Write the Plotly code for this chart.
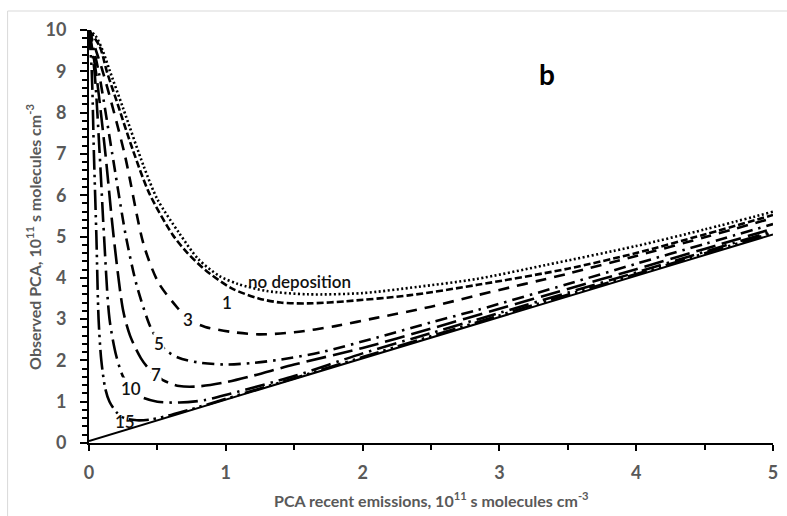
import plotly.graph_objects as go

# ---- data ----
nodep_x = [0, 0.05, 0.1, 0.15, 0.25, 0.4, 0.5, 0.66, 0.8, 0.95, 1.09, 1.3, 1.6, 2.0, 2.4, 2.83, 3.34, 4.0, 4.5, 5.0]
nodep_y = [10, 9.85, 9.5, 9.03, 8.1, 6.7, 5.9, 5.08, 4.45, 4.05, 3.85, 3.68, 3.6, 3.63, 3.78, 3.97, 4.31, 4.77, 5.17, 5.6]

d1_x = [0, 0.08, 0.13, 0.2, 0.32, 0.44, 0.61, 0.72, 0.85, 1.04, 1.24, 1.4, 1.6, 1.87, 2.35, 2.84, 3.5, 4.0, 4.5, 5.0]
d1_y = [10, 9.59, 9.0, 8.3, 7.1, 6.05, 5.05, 4.6, 4.19, 3.75, 3.5, 3.4, 3.38, 3.43, 3.58, 3.83, 4.22, 4.6, 5.05, 5.52]

d3_x = [0, 0.1, 0.26, 0.4, 0.51, 0.66, 0.72, 0.85, 1.04, 1.24, 1.5, 1.8, 2.1, 2.5, 2.84, 3.5, 4.0, 4.5, 5.0]
d3_y = [10, 9.0, 7.0, 4.8, 3.87, 3.22, 3.0, 2.81, 2.69, 2.63, 2.68, 2.83, 3.03, 3.3, 3.58, 4.1, 4.53, 4.98, 5.45]

d5_x = [0, 0.07, 0.17, 0.27, 0.35, 0.45, 0.51, 0.56, 0.65, 0.8, 1.0, 1.2, 1.4, 1.7, 2.1, 2.5, 2.84, 3.5, 4.0, 4.5, 5.0]
d5_y = [10, 9.0, 7.0, 5.0, 3.8, 2.8, 2.45, 2.25, 2.07, 1.95, 1.9, 1.94, 2.02, 2.2, 2.55, 2.92, 3.22, 3.85, 4.34, 4.82, 5.3]

d7_x = [0, 0.05, 0.12, 0.18, 0.25, 0.3, 0.38, 0.45, 0.54, 0.66, 0.8, 1.0, 1.2, 1.5, 2.0, 2.5, 3.0, 3.5, 4.0, 4.5, 5.0]
d7_y = [10, 9.0, 7.0, 5.0, 3.2, 2.6, 2.05, 1.75, 1.52, 1.38, 1.37, 1.47, 1.63, 1.9, 2.3, 2.77, 3.25, 3.73, 4.21, 4.7, 5.19]

d10_x = [0, 0.04, 0.078, 0.11, 0.15, 0.2, 0.25, 0.31, 0.38, 0.5, 0.66, 0.85, 1.04, 1.5, 2.0, 2.5, 3.0, 3.5, 4.0, 4.5, 5.0]
d10_y = [10, 9.0, 7.0, 5.0, 3.0, 2.1, 1.6, 1.33, 1.12, 1.0, 0.98, 1.04, 1.2, 1.62, 2.17, 2.66, 3.15, 3.64, 4.13, 4.63, 5.13]

d15_x = [0, 0.02, 0.036, 0.054, 0.07, 0.09, 0.12, 0.15, 0.2, 0.26, 0.35, 0.45, 0.6, 0.8, 1.0, 1.5, 2.0, 3.0, 4.0, 5.0]
d15_y = [10, 9.0, 7.0, 5.0, 3.0, 2.0, 1.3, 1.0, 0.75, 0.6, 0.55, 0.57, 0.68, 0.87, 1.07, 1.57, 2.08, 3.09, 4.09, 5.09]

ref_x = [0, 5]
ref_y = [0.05, 5.05]

label_text = ["no deposition", "1", "3", "5", "7", "10", "15"]
label_x = [1.54, 1.01, 0.72, 0.51, 0.49, 0.31, 0.26]
label_y = [3.92, 3.41, 2.98, 2.42, 1.65, 1.33, 0.53]

x_ticks = [0, 1, 2, 3, 4, 5]
y_ticks = [0, 1, 2, 3, 4, 5, 6, 7, 8, 9, 10]

# ---- figure ----
fig = go.Figure()
series = [
    (nodep_x, nodep_y, "2px,2.5px"),
    (d1_x, d1_y, "7px,3px"),
    (d3_x, d3_y, "11px,8px"),
    (d5_x, d5_y, "12px,6px,2.5px,6px"),
    (d7_x, d7_y, "20px,7px"),
    (d10_x, d10_y, "20px,6px,2.5px,6px"),
    (d15_x, d15_y, "20px,5px,2.5px,5px,2.5px,5px"),
]
for xs, ys, dash in series:
    fig.add_trace(go.Scatter(x=xs, y=ys, mode="lines",
                             line=dict(color="black", width=2.6, dash=dash,
                                       shape="spline", smoothing=0.8),
                             showlegend=False, hoverinfo="skip"))
fig.add_trace(go.Scatter(x=ref_x, y=ref_y, mode="lines",
                         line=dict(color="black", width=2),
                         showlegend=False, hoverinfo="skip"))

no_bg = ("no deposition", "15")
for t, lx, ly in zip(label_text, label_x, label_y):
    fig.add_annotation(x=lx, y=ly, text=t, showarrow=False,
                       font=dict(family="Lato", size=17, color="#111111", weight=600),
                       bgcolor=None if t in no_bg else "white",
                       borderpad=0,
                       xanchor="center", yanchor="middle")

fig.add_annotation(x=(550 - 89) / 689, y=(443 - 74) / 413, xref="paper", yref="paper",
                   text="<b>b</b>", showarrow=False,
                   font=dict(family="Lato", size=28, color="black"),
                   xanchor="center", yanchor="middle")

fig.add_annotation(x=(33 - 89) / 689, y=0.5, xref="paper", yref="paper",
                   text="<b>Observed PCA, 10<sup>11</sup> s molecules cm<sup>-3</sup></b>",
                   textangle=-90, showarrow=False,
                   font=dict(family="Lato", size=16, color="#595959"),
                   xanchor="center", yanchor="middle")
fig.add_annotation(x=0.5, y=(443 - 499) / 413, xref="paper", yref="paper",
                   text="<b>PCA recent emissions, 10<sup>11</sup> s molecules cm<sup>-3</sup></b>",
                   showarrow=False,
                   font=dict(family="Lato", size=16, color="#595959"),
                   xanchor="center", yanchor="middle")

# outer light-gray chart border
fig.add_shape(type="rect", xref="paper", yref="paper",
              x0=(7 - 89) / 689, x1=1.2, y0=-0.4, y1=(443 - 11) / 413,
              line=dict(color="#d9d9d9", width=1), fillcolor="rgba(0,0,0,0)")

fig.update_xaxes(range=[0, 5], tickvals=x_ticks, showgrid=False, zeroline=False,
                 showline=True, linecolor="black", linewidth=2,
                 ticks="outside", ticklen=6, tickwidth=2, tickcolor="black",
                 minor=dict(dtick=0.5, ticks="outside", ticklen=5, tickwidth=2, tickcolor="black"),
                 tickfont=dict(family="Lato", size=18, color="#595959", weight="bold"),
                 ticklabelstandoff=6)
fig.update_yaxes(range=[0, 10], tickvals=y_ticks, showgrid=False, zeroline=False,
                 showline=True, linecolor="black", linewidth=2,
                 ticks="outside", ticklen=7, tickwidth=2, tickcolor="black",
                 minor=dict(dtick=0.2, ticks="outside", ticklen=5, tickwidth=1.5, tickcolor="black"),
                 tickfont=dict(family="Lato", size=18, color="#595959", weight="bold"),
                 ticklabelstandoff=10)

fig.update_layout(width=787, height=516, margin=dict(l=89, r=9, t=30, b=73),
                  plot_bgcolor="white", paper_bgcolor="white")

fig.write_html("out.html")
